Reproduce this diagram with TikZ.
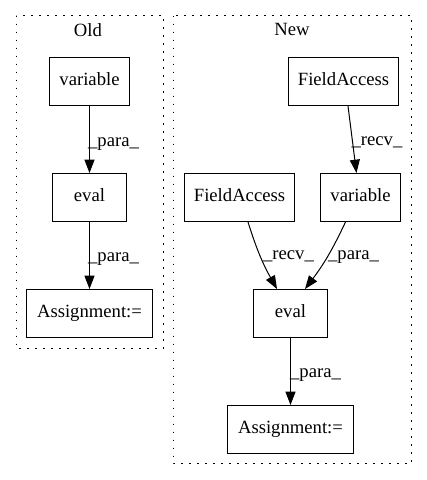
\documentclass[tikz,border=0pt]{standalone}
\usepackage{fontspec}
\setmainfont{Liberation Serif}
\usetikzlibrary{arrows.meta,calc}
\begin{document}
\begin{tikzpicture}[x=0.75pt,y=-0.75pt,
  every node/.style={font=\fontsize{14pt}{16pt}\selectfont},
  box/.style={draw,line width=0.75pt,minimum height=36pt,inner sep=0pt,text height=9.5pt,text depth=3pt},
  cluster/.style={draw,line width=0.75pt,dash pattern=on 1.1pt off 4.9pt},
  edge/.style={line width=0.75pt,-{Triangle[length=10pt,width=7.5pt]}},
  elabel/.style={anchor=center,inner sep=0pt,text height=9.5pt,text depth=3pt}]
\useasboundingbox (0,0) rectangle (427,480);
% clusters
\draw[cluster] (16.5,15.5) rectangle (163.5,348.5);
\draw[cluster] (173.5,15.5) rectangle (411.5,463.5);
\node[elabel] (oldlbl) at (88,32) {Old};
\node[elabel] (newlbl) at (292,31) {New};
% Old
\node[box,minimum width=60pt] (ov) at (89.5,81.5) {variable};
\node[box,minimum width=55pt] (oe) at (89.5,197.5) {eval};
\node[box,minimum width=94pt] (oa) at (89.5,313.5) {Assignment:=};
\draw[edge] (ov) -- (oe);
\draw[edge] (oe) -- (oa);
\node[elabel] (l1) at (113.5,142) {\_para\_};
\node[elabel] (l2) at (113.5,257) {\_para\_};
% New
\node[box,minimum width=83pt] (fa1) at (343.5,81.5) {FieldAccess};
\node[box,minimum width=83pt] (fa2) at (239.5,197.5) {FieldAccess};
\node[box,minimum width=60pt] (nv) at (360.5,197.5) {variable};
\node[box,minimum width=55pt] (ne) at (290.5,313.5) {eval};
\node[box,minimum width=94pt] (na) at (290.5,429.5) {Assignment:=};
\draw[edge] ($(fa1.south)+(4.5,0)$) -- ($(nv.north)+(-4,0)$);
\draw[edge] ($(fa2.south)+(8.5,0)$) to[bend right=6] ($(ne.north)+(-13.5,0)$);
\draw[edge] ($(nv.south)+(-15,0)$) to[bend left=6] ($(ne.north)+(14.5,0)$);
\draw[edge] (ne) -- (na);
\node[elabel] (l3) at (377,141) {\_recv\_};
\node[elabel] (l4) at (288.5,255) {\_recv\_};
\node[elabel] (l5) at (353.5,255) {\_para\_};
\node[elabel] (l6) at (315.5,373) {\_para\_};
\end{tikzpicture}
\end{document}
